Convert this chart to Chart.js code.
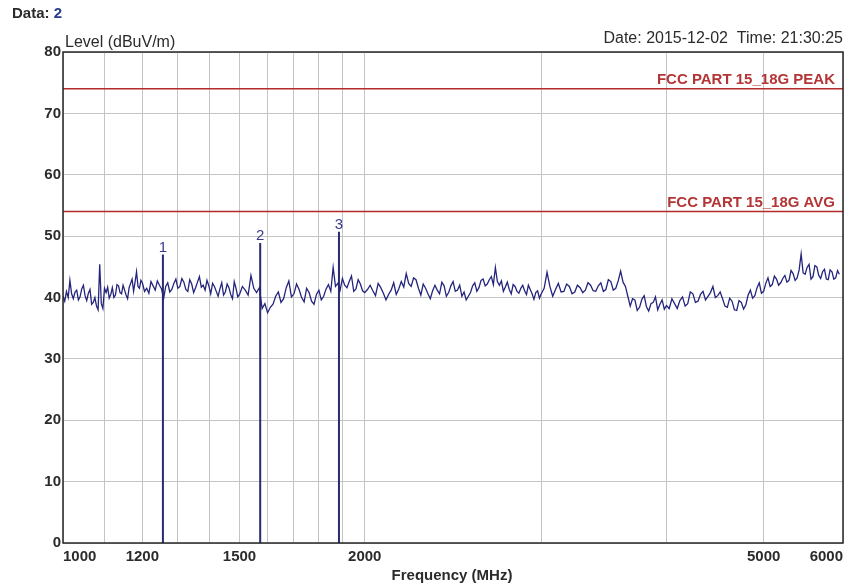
<!DOCTYPE html>
<html>
<head>
<meta charset="utf-8">
<script src="https://cdn.jsdelivr.net/npm/chart.js@4/dist/chart.umd.min.js"></script>
<style>
html,body{margin:0;padding:0;background:#fff;}
#wrap{width:856px;height:588px;position:relative;}
</style>
</head>
<body>
<div id="wrap"><canvas id="c" width="856" height="588"></canvas></div>
<script>
// ---- data ----
const traceFreqs = [
 1000,1004,1008,1012,1016,1020,1024,1028,1032,1036,1040,1044,1048,1052,1056,1060,1064,1068,1072,1076,1080,1084,1088,1092,1096,1100,
 1104,1108,1112,1116,1120,1124,1128,1132,1136,1140,1144,1148,1152,1156,1160,1164,1168,1172,1176,1180,1184,1188,1192,1196,1200,
 1206,1212,1218,1224,1230,1236,1242,1248,1254,1260,1266,1272,1278,1284,1290,1296,1302,1308,1314,1320,1326,1332,1338,1344,1350,
 1356,1362,1368,1374,1380,1386,1392,1398,1404,1410,1416,1422,1428,1434,1440,1446,1452,1458,1464,1470,1476,1482,1488,1494,1500,
 1510,1520,1530,1540,1550,1560,1570,1580,1590,1600,1610,1620,1630,1640,1650,1660,1670,1680,1690,1700,1710,1720,1730,1740,1750,
 1760,1770,1780,1790,1800,1810,1820,1830,1840,1850,1860,1870,1880,1890,1900,1910,1920,1930,1940,1950,1960,1970,1980,1990,2000,
 2012.5,2025,2037.5,2050,2062.5,2075,2087.5,2100,2112.5,2125,2137.5,2150,2162.5,2175,2187.5,2200,2212.5,2225,2237.5,2250,
 2262.5,2275,2287.5,2300,2312.5,2325,2337.5,2350,2362.5,2375,2387.5,2400,2412.5,2425,2437.5,2450,2462.5,2475,2487.5,2500,
 2512.5,2525,2537.5,2550,2562.5,2575,2587.5,2600,2612.5,2625,2637.5,2650,2662.5,2675,2687.5,2700,2712.5,2725,2737.5,2750,
 2762.5,2775,2787.5,2800,2812.5,2825,2837.5,2850,2862.5,2875,2887.5,2900,2912.5,2925,2937.5,2950,2962.5,2975,2987.5,3000,
 3020,3040,3060,3080,3100,3120,3140,3160,3180,3200,3220,3240,3260,3280,3300,3320,3340,3360,3380,3400,3420,3440,3460,3480,3500,
 3520,3540,3560,3580,3600,3620,3640,3660,3680,3700,3720,3740,3760,3780,3800,3820,3840,3860,3880,3900,3920,3940,3960,3980,4000,
 4025,4050,4075,4100,4125,4150,4175,4200,4225,4250,4275,4300,4325,4350,4375,4400,4425,4450,4475,4500,4525,4550,4575,4600,4625,
 4650,4675,4700,4725,4750,4775,4800,4825,4850,4875,4900,4925,4950,4975,5000,5025,5050,5075,5100,5125,5150,5175,5200,5225,5250,
 5275,5300,5325,5350,5375,5400,5425,5450,5475,5500,5525,5550,5575,5600,5625,5650,5675,5700,5725,5750,5775,5800,5825,5850,5875,
 5900,5925,5950
];
const traceLevels = [
 40.2,39.4,41.0,40.0,42.8,40.6,39.8,40.9,41.2,39.6,40.1,41.4,42.0,40.3,39.5,40.7,41.3,38.9,39.2,40.0,38.6,38.0,45.4,39.0,38.2,41.5,
 40.8,41.7,39.9,40.5,41.6,40.0,40.4,42.1,41.9,40.8,40.6,42.0,41.2,40.4,39.8,41.6,42.3,43.0,41.0,42.5,44.2,41.8,41.5,42.8,42.4,
 41.0,41.5,40.7,42.6,41.9,41.2,42.7,42.0,41.4,39.8,41.8,42.4,40.9,41.3,42.3,43.0,41.5,41.8,43.1,42.5,41.3,41.0,42.9,42.2,40.8,
 41.6,42.5,43.4,41.7,42.0,41.2,42.8,41.9,40.6,42.3,41.8,41.0,40.2,41.4,42.4,40.4,40.9,42.2,41.6,40.5,39.8,42.6,41.5,40.1,40.5,
 41.8,41.2,40.4,43.6,41.5,40.8,41.6,38.2,39.0,37.5,38.4,38.9,40.2,40.9,39.2,39.8,41.6,42.7,40.1,40.6,42.2,41.3,40.0,39.3,41.5,
 40.8,39.4,38.9,40.5,41.2,39.6,40.2,41.4,42.1,41.0,44.9,41.8,42.3,41.2,43.1,42.0,41.6,42.6,43.5,41.0,41.4,42.9,42.2,41.1,40.8,
 41.3,42.0,41.1,40.3,42.3,41.6,40.7,39.6,40.5,41.2,42.4,40.5,41.4,42.6,41.7,43.9,42.3,41.8,43.2,42.9,
 41.5,40.4,42.2,41.5,40.6,39.8,41.1,42.0,41.2,40.6,42.5,41.9,40.2,40.8,41.9,42.6,41.0,41.2,42.0,40.2,
 40.9,39.6,40.2,40.8,41.9,42.4,41.0,41.6,42.8,43.0,41.9,42.2,42.9,43.4,42.1,44.9,42.6,42.0,42.7,41.0,
 41.7,42.5,41.3,40.6,42.1,41.8,41.0,40.7,41.5,42.0,41.1,40.5,42.0,41.3,40.6,39.7,40.8,41.1,39.9,40.6,
 41.5,44.1,41.8,40.2,41.3,42.3,40.9,41.0,42.2,41.8,40.6,40.9,42.0,41.6,40.8,41.2,42.4,42.0,41.1,41.0,41.9,42.4,41.0,41.3,42.9,
 42.6,41.2,41.5,42.7,44.3,42.5,41.8,40.2,38.6,39.8,39.6,37.9,38.4,39.7,40.3,38.5,37.8,39.0,39.2,40.1,38.0,38.9,39.6,38.1,38.7,
 38.2,39.8,39.0,38.2,39.5,40.1,38.6,39.0,40.9,40.6,39.2,39.4,40.5,41.0,39.6,40.2,40.8,41.8,40.0,40.3,40.9,39.8,38.6,38.4,39.9,
 39.4,38.0,37.9,39.5,39.2,38.1,38.8,40.4,41.2,39.9,40.3,41.6,42.4,40.7,41.0,42.3,43.2,41.8,42.1,43.5,43.0,42.0,42.4,43.1,43.6,
 42.5,42.8,44.4,43.9,42.8,43.2,44.5,47.1,44.0,43.8,44.9,45.4,43.0,43.4,45.2,45.0,43.6,43.1,44.2,44.6,43.0,42.9,44.5,44.2,43.0,
 43.2,44.4,43.8
];
const markerNames  = ['1','2','3'];
const markerFreqs  = [1258, 1573, 1885];
const markerLevels = [47.0, 48.9, 50.7];
const limitNames  = ['FCC PART 15_18G PEAK','FCC PART 15_18G AVG'];
const limitLevels = [74, 54];
const xGridValues = [1000,1100,1200,1300,1400,1500,1600,1700,1800,1900,2000,3000,4000,5000,6000];
const xTickLabels = [1000,1200,1500,2000,5000,6000];
const yTicks = [0,10,20,30,40,50,60,70,80];
const xMin = 1000, xMax = 6000;

// ---- datasets ----
const datasets = [];
limitLevels.forEach((lv,i)=>{
  datasets.push({label:limitNames[i], data:[{x:xMin,y:lv},{x:xMax,y:lv}],
    borderColor:'#b52a2a', borderWidth:1.5, pointRadius:0, tension:0});
});
datasets.push({label:'trace', data:traceFreqs.map((f,i)=>({x:f,y:traceLevels[i]})),
  borderColor:'#24247c', borderWidth:1.3, pointRadius:0, tension:0});
markerFreqs.forEach((f,i)=>{
  datasets.push({label:'m'+markerNames[i], data:[{x:f,y:0},{x:f,y:markerLevels[i]}],
    borderColor:'#2a2a6e', borderWidth:2, pointRadius:0, tension:0});
});

const FONT = 'Arial, "Liberation Sans", sans-serif';

const deco = {
  id:'deco',
  afterDraw(chart){
    const {ctx, chartArea:a, scales:{x,y}} = chart;
    ctx.save();
    // frame
    ctx.strokeStyle='#262626'; ctx.lineWidth=1.5;
    ctx.strokeRect(a.left, a.top, a.right-a.left, a.bottom-a.top);
    // limit labels
    ctx.fillStyle='#b33535'; ctx.font='bold 15px '+FONT;
    ctx.textAlign='right'; ctx.textBaseline='alphabetic';
    limitLevels.forEach((lv,i)=>{
      ctx.fillText(limitNames[i], a.right-8, y.getPixelForValue(lv)-5);
    });
    // marker labels
    ctx.fillStyle='#3a3a90'; ctx.font='15px '+FONT; ctx.textAlign='center';
    markerFreqs.forEach((f,i)=>{
      ctx.fillText(markerNames[i], x.getPixelForValue(f), y.getPixelForValue(markerLevels[i])-3);
    });
    // titles
    ctx.fillStyle='#2b2b2b';
    ctx.textBaseline='middle';
    ctx.font='bold 15px '+FONT; ctx.textAlign='left';
    ctx.fillText('Data: ', 12, 14);
    const w = ctx.measureText('Data: ').width;
    ctx.fillStyle='#2a3a8a';
    ctx.fillText('2', 12 + w, 14);
    ctx.fillStyle='#2b2b2b';
    ctx.font='16px '+FONT;
    ctx.fillText('Level (dBuV/m)', 65, 43);
    ctx.textAlign='right';
    ctx.fillText('Date: 2015-12-02  Time: 21:30:25', 843, 39);
    ctx.textAlign='center'; ctx.font='bold 15px '+FONT;
    ctx.fillText('Frequency (MHz)', 452, 576);
    ctx.restore();
  }
};

new Chart(document.getElementById('c'), {
  type:'line',
  data:{datasets},
  options:{
    responsive:false, animation:false,
    layout:{padding:{top:52, right:13, left:0, bottom:0}},
    plugins:{legend:{display:false}, tooltip:{enabled:false}},
    scales:{
      x:{type:'logarithmic', min:xMin, max:xMax,
        afterBuildTicks(s){ s.ticks = xGridValues.map(v=>({value:v})); },
        afterFit(s){ s.height = 45; },
        grid:{color:'#c4c4c4', lineWidth:1, drawTicks:false},
        border:{display:false},
        ticks:{autoSkip:false, maxRotation:0, padding:5, align:'inner',
          color:'#2b2b2b', font:{family:FONT, size:15, weight:'bold'},
          callback:(v)=> xTickLabels.includes(v) ? String(v) : ''}
      },
      y:{type:'linear', min:0, max:80,
        afterBuildTicks(s){ s.ticks = yTicks.map(v=>({value:v})); },
        afterFit(s){ s.width = 63; },
        grid:{color:'#c4c4c4', lineWidth:1, drawTicks:false},
        border:{display:false},
        ticks:{padding:2, color:'#2b2b2b', font:{family:FONT, size:15, weight:'bold'}}
      }
    }
  },
  plugins:[deco]
});
</script>
</body>
</html>
